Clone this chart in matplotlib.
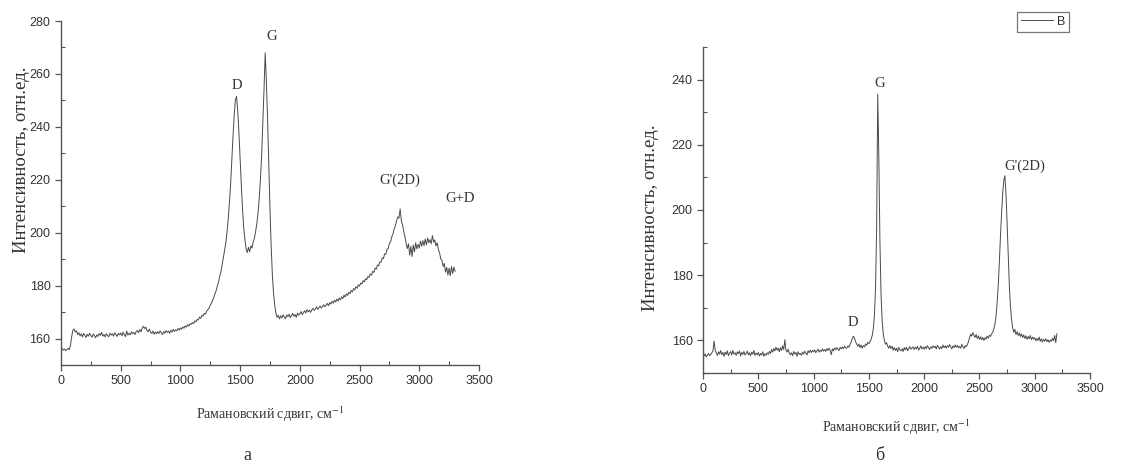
import numpy as np
import matplotlib
matplotlib.use("Agg")
import matplotlib.pyplot as plt
from matplotlib.ticker import MultipleLocator

plt.rcParams['mathtext.fontset'] = 'stix'

# Raman shift grid, cm^-1 (10 cm^-1 step)
shift_a = np.arange(0, 3301, 10)
shift_b = np.arange(0, 3201, 10)

# spectrum a, one row per 100 cm^-1
intensity_a = [
    157.0, 156.2, 155.6, 156.1, 155.4, 155.9, 156.3, 155.8, 157.5, 160.8,
    163.2, 163.6, 162.4, 162.9, 161.5, 162.2, 161.0, 161.8, 160.6, 161.9,
    161.2, 160.4, 161.6, 160.9, 162.0, 161.1, 160.5, 161.7, 161.0, 160.3,
    161.4, 160.8, 161.9, 161.2, 162.3, 160.9, 161.5, 160.6, 161.8, 161.1,
    160.7, 162.0, 161.3, 161.8, 160.9, 162.2, 161.5, 160.8, 161.9, 161.4,
    162.1, 161.0, 162.4, 161.6, 160.7, 162.8, 161.3, 162.0, 161.4, 162.6,
    161.8, 162.3, 161.5, 162.7, 163.0, 162.2, 163.4, 162.6, 163.9, 164.6,
    163.8, 164.3, 163.1, 162.5, 163.6, 162.4, 161.9, 162.8, 161.6, 162.5,
    161.8, 162.6, 161.9, 162.9, 162.1, 161.5, 162.7, 162.0, 163.0, 162.3,
    162.8, 162.0, 163.1, 162.4, 163.5, 162.7, 163.3, 162.9, 163.8, 163.2,
    164.0, 163.5, 164.4, 163.9, 164.8, 164.3, 165.2, 164.7, 165.6, 165.3,
    166.0, 165.6, 166.7, 166.3, 167.2, 167.0, 168.1, 167.6, 168.8, 168.5,
    169.5, 169.2, 170.4, 170.9, 171.5, 172.6, 173.4, 174.5, 175.6, 177.0,
    178.2, 180.0, 181.5, 183.6, 185.4, 188.0, 190.5, 193.2, 196.0, 200.0,
    205.0, 211.0, 218.0, 227.0, 236.0, 244.0, 250.0, 251.5, 246.0, 238.0,
    228.0, 218.0, 209.0, 202.0, 197.5, 194.0, 192.5, 194.5, 192.8, 195.0,
    194.2, 196.5, 198.0, 200.5, 203.5, 207.5, 213.0, 220.0, 229.0, 241.0,
    254.0, 268.0, 257.0, 243.0, 226.0, 209.0, 195.0, 184.0, 177.0, 172.5,
    169.5, 168.0, 168.8, 167.4, 168.6, 167.8, 169.0, 168.2, 167.5, 168.9,
    168.3, 169.2, 167.9, 168.7, 169.5, 168.4, 169.1, 168.0, 169.6, 168.8,
    169.4, 170.2, 169.0, 169.8, 170.5, 169.6, 170.9, 170.1, 170.7, 169.9,
    170.8, 171.4, 170.6, 171.2, 172.0, 171.0, 171.7, 172.3, 171.5, 172.1,
    172.8, 172.0, 172.6, 173.3, 172.4, 173.6, 173.0, 174.1, 173.4, 174.5,
    173.8, 174.9, 174.2, 175.3, 174.6, 175.8, 175.1, 176.4, 175.7, 176.9,
    176.3, 177.5, 176.9, 178.2, 177.6, 178.9, 178.4, 179.6, 179.0, 180.3,
    179.8, 181.0, 180.6, 181.9, 181.4, 182.6, 182.2, 183.5, 183.1, 184.4,
    184.0, 185.4, 185.0, 186.6, 186.2, 187.8, 187.5, 189.0, 188.8, 190.5,
    190.2, 192.0, 191.8, 193.8, 194.0, 196.0, 196.5, 198.5, 199.5, 201.5,
    202.5, 204.5, 206.0, 205.5, 209.0, 204.5, 203.0, 200.5, 198.5, 196.0,
    194.0, 195.8, 191.5, 194.8, 191.0, 195.4, 192.8, 196.2, 193.9, 195.6,
    194.2, 196.8, 194.9, 197.0, 195.1, 197.6, 195.4, 198.0, 196.2, 197.4,
    195.8, 198.9, 196.4, 197.3, 195.0, 196.2, 193.6, 192.4, 190.1, 189.6,
    187.2, 188.4, 185.1, 186.9, 184.0, 186.6, 183.8, 187.2, 184.6, 187.0,
    185.4,
]

# spectrum b, one row per 100 cm^-1
intensity_b = [
    157.0, 155.2, 155.8, 154.9, 155.5, 156.0, 155.3, 155.7, 156.2, 156.8,
    159.8, 157.0, 156.2, 155.4, 156.5, 155.8, 156.9, 155.6, 156.3, 155.1,
    156.4, 155.7, 156.8, 155.3, 156.1, 156.6, 155.5, 156.9, 155.8, 156.2,
    155.4, 156.5, 155.9, 156.8, 155.2, 156.3, 155.7, 156.6, 155.5, 156.0,
    156.7, 155.6, 156.2, 155.3, 156.4, 155.8, 156.9, 155.4, 156.1, 155.6,
    156.3, 155.2, 156.0, 155.5, 156.5, 155.1, 155.9, 155.4, 156.2, 155.7,
    156.6, 156.0, 157.2, 156.4, 157.5, 156.8, 157.9, 157.0, 157.6, 156.5,
    157.8, 156.9, 158.3, 157.2, 160.2, 157.0, 156.4, 157.3, 156.1, 155.6,
    156.2, 155.3, 156.6, 155.8, 156.3, 155.1, 156.5, 155.7, 156.0, 155.4,
    156.4, 155.8, 156.7, 156.1, 155.5, 156.8, 156.2, 157.0, 156.3, 156.9,
    156.5, 157.1, 156.2, 156.8, 157.3, 156.4, 157.0, 156.6, 157.4, 156.7,
    157.2, 156.6, 157.5, 156.9, 157.6, 157.0, 155.6, 157.4, 156.8, 157.7,
    157.1, 157.8, 157.3, 156.9, 157.9, 157.4, 158.0, 157.5, 158.2, 157.7,
    157.6, 158.3, 157.9, 158.8, 159.5, 160.6, 161.3, 160.7, 159.6, 158.8,
    158.2, 158.9, 157.8, 158.6, 157.6, 158.4, 158.0, 158.9, 158.5, 159.4,
    159.0, 159.6, 160.3, 161.5, 163.5, 167.5, 176.0, 194.0, 235.5, 216.0,
    190.0, 174.0, 166.0, 162.0, 160.0, 158.8, 159.3, 158.2, 157.6, 158.4,
    157.5, 158.2, 157.0, 157.8, 156.9, 157.6, 156.5, 157.9, 157.2, 156.8,
    157.4, 156.6, 157.8, 157.1, 157.9, 156.8, 157.5, 158.1, 157.3, 157.7,
    158.0, 157.2, 157.9, 157.4, 158.2, 157.0, 157.6, 158.3, 157.4, 157.9,
    157.3, 158.1, 157.5, 158.4, 157.7, 157.2, 158.0, 157.6, 158.3, 157.8,
    158.2, 157.4, 158.5, 157.9, 157.3, 158.1, 157.5, 158.6, 157.8, 158.3,
    157.6, 158.4, 157.9, 158.7, 158.0, 157.4, 158.3, 157.8, 158.6, 157.9,
    158.5, 157.7, 158.2, 157.6, 158.8, 158.1, 157.5, 158.4, 158.0, 158.7,
    159.5, 160.8, 161.9, 161.3, 162.4, 161.6, 160.9, 161.8, 160.6, 161.4,
    160.3, 161.1, 160.2, 160.9, 160.0, 160.8, 160.4, 161.3, 160.7, 161.6,
    161.2, 162.0, 162.5, 163.5, 165.0, 167.5, 171.5, 177.0, 184.0, 192.0,
    199.0, 205.0, 209.0, 210.5, 205.0, 196.0, 186.0, 177.0, 170.5, 166.5,
    164.0, 162.5, 163.4, 161.8, 162.7, 161.5, 162.3, 161.2, 162.0, 160.9,
    161.7, 160.6, 161.4, 160.3, 161.2, 160.5, 161.5, 160.2, 161.0, 160.4,
    160.8, 159.9, 160.6, 160.0, 161.0, 159.7, 160.5, 159.5, 160.3, 159.8,
    160.5, 159.6, 160.2, 159.4, 160.1, 159.7, 160.6, 159.9, 161.5, 159.3,
    162.0,
]

peaks_a = [("D", 1474, 255.5), ("G", 1767, 274.0), ("G'(2D)", 2840, 220.0), ("G+D", 3340, 213.0)]
peaks_b = [("D", 1356, 165.6), ("G", 1600, 238.7), ("G'(2D)", 2911, 213.3)]

XLABEL = 'Рамановский сдвиг, см$^{-1}$'
YLABEL = 'Интенсивность, отн.ед.'
LINE_COLOR = '#4a4a4a'
TEXT_COLOR = '#333333'
SERIF = 'Liberation Serif'
SANS = 'Liberation Sans'


def style_axes(ax, ylim, ymajor):
    ax.set_xlim(0, 3500)
    ax.set_ylim(*ylim)
    ax.xaxis.set_major_locator(MultipleLocator(500))
    ax.xaxis.set_minor_locator(MultipleLocator(250))
    ax.yaxis.set_major_locator(MultipleLocator(ymajor))
    ax.yaxis.set_minor_locator(MultipleLocator(ymajor / 2))
    for side in ['top', 'right']:
        ax.spines[side].set_visible(False)
    for side in ['left', 'bottom']:
        ax.spines[side].set_color('#555555')
        ax.spines[side].set_linewidth(1.0)
    ax.tick_params(which='major', direction='out', length=4, width=0.9,
                   colors='#555555', labelcolor=TEXT_COLOR, labelsize=9)
    ax.tick_params(which='minor', direction='in', length=3, width=0.8, colors='#555555')
    for lbl in ax.get_xticklabels() + ax.get_yticklabels():
        lbl.set_fontfamily(SANS)
    ax.set_xlabel(XLABEL, fontfamily=SERIF, fontsize=10, color=TEXT_COLOR)
    ax.set_ylabel(YLABEL, fontfamily=SERIF, fontsize=13.5, color=TEXT_COLOR)


fig = plt.figure(figsize=(11.27, 4.70), dpi=100)

ax_a = fig.add_axes([0.0541, 0.2234, 0.3709, 0.7319])
ax_a.plot(shift_a, intensity_a, color=LINE_COLOR, linewidth=0.7)
style_axes(ax_a, (150, 280), 20)
ax_a.xaxis.labelpad = 12
ax_a.yaxis.set_label_coords(-0.075, 0.596)
for name, x, y in peaks_a:
    ax_a.text(x, y, name, ha='center', va='center', fontfamily=SERIF,
              fontsize=10.5, color=TEXT_COLOR)

ax_b = fig.add_axes([0.6238, 0.2064, 0.3434, 0.6936])
ax_b.plot(shift_b, intensity_b, color=LINE_COLOR, linewidth=0.7, label='B')
style_axes(ax_b, (150, 250), 20)
ax_b.xaxis.labelpad = 16
ax_b.yaxis.set_label_coords(-0.114, 0.475)
for name, x, y in peaks_b:
    ax_b.text(x, y, name, ha='center', va='center', fontfamily=SERIF,
              fontsize=10.5, color=TEXT_COLOR)

leg = fig.legend(handles=ax_b.get_lines(), labels=['B'], loc='upper right',
                 bbox_to_anchor=(1069 / 1127, 1 - 12 / 470), borderaxespad=0,
                 frameon=True, fancybox=False, handlelength=2.6, handletextpad=0.3,
                 borderpad=0.3, prop={'family': SANS, 'size': 9})
leg.get_frame().set_edgecolor('#555555')
leg.get_frame().set_linewidth(0.9)
for t in leg.get_texts():
    t.set_color(TEXT_COLOR)

fig.text(247 / 1127, 1 - 455 / 470, 'а', ha='center', va='center',
         fontfamily=SERIF, fontsize=13, color=TEXT_COLOR)
fig.text(880 / 1127, 1 - 455 / 470, 'б', ha='center', va='center',
         fontfamily=SERIF, fontsize=13, color=TEXT_COLOR)

fig.savefig('out.png', dpi=100)
